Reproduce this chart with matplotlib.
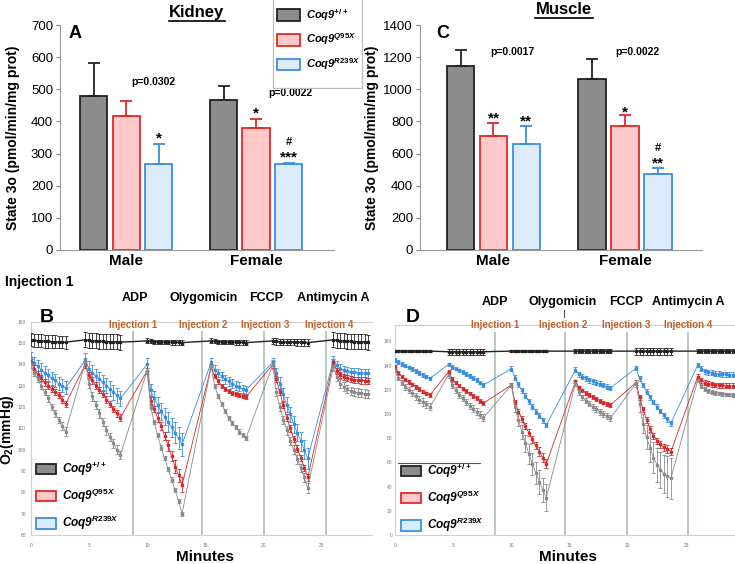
import numpy as np
import matplotlib.pyplot as plt
import matplotlib.patches as mpatches
from matplotlib.lines import Line2D

plt.rcParams['font.family'] = ['Liberation Sans', 'DejaVu Sans']
plt.rcParams['mathtext.fontset'] = 'custom'
plt.rcParams['mathtext.rm'] = 'Liberation Sans:bold'
plt.rcParams['mathtext.it'] = 'Liberation Sans:bold:italic'
plt.rcParams['mathtext.bf'] = 'Liberation Sans:bold'

# ---- bar data (State 3o, pmol/min/mg prot) ----
groups = ['Male', 'Female']
kid_wt = [478, 467]
kid_wt_err = [103, 43]
kid_q95 = [418, 380]
kid_q95_err = [45, 28]
kid_r239 = [267, 267]
kid_r239_err = [63, 3]

mus_wt = [1147, 1064]
mus_wt_err = [97, 122]
mus_q95 = [711, 774]
mus_q95_err = [81, 64]
mus_r239 = [662, 471]
mus_r239_err = [109, 41]

# ---- O2 traces, 11 readings per measurement cycle, 0.3 min apart ----
b_starts = [0, 4.7, 10, 15.5, 20.8, 26]
d_starts = [0, 4.6, 10, 15.5, 20.7, 26]
b_inject = [8.77, 14.7, 20.06, 25.4]
d_inject = [8.6, 14.6, 19.9, 25.2]

b_wt = [140, 136, 133, 130, 127, 124, 120, 117, 114, 111, 108.5,
        141, 131, 125, 121, 117, 113, 109, 106, 103, 100, 97.5,
        137, 120, 113, 107, 101, 96, 91, 86, 81, 76, 70,
        139, 130, 125, 121.5, 118, 115, 112.5, 110.5, 108.5, 107, 105.5,
        140, 127, 120, 114, 109, 104, 100, 95.5, 91.5, 87, 82,
        139, 134, 131, 129.5, 128.5, 127.5, 127, 126.8, 126.5, 126.3, 126.2]
b_wt_err = [1.5, 1.5, 1.5, 1.5, 1.5, 1.5, 1.5, 1.5, 1.5, 2, 2,
            2, 2, 2, 2, 2, 2, 2, 2, 2, 2, 2,
            1.5, 1, 1, 1, 1, 1, 1, 1, 1, 1, 1,
            1, 1, 1, 1, 1, 1, 1, 1, 1, 1, 1,
            2, 2, 2, 2, 2, 2, 2, 2, 2, 2, 2.5,
            2, 2, 2, 2, 2, 2, 2, 2, 2, 2, 2]
b_q95 = [141, 138, 135.5, 133.5, 131.5, 130, 128.5, 127, 125.5, 123.5, 121.5,
         140, 135, 132.5, 130, 128, 126, 123.5, 121.5, 119, 117, 115,
         137, 123, 119, 115, 111, 106.5, 102, 97, 92, 88, 83.5,
         139, 134.5, 132, 130, 128.5, 127.5, 126.5, 126, 125.5, 125, 124.8,
         140, 133, 127, 121, 115, 110, 105, 100.5, 96, 91.5, 87,
         141, 137, 135, 134, 133.5, 133, 132.8, 132.6, 132.5, 132.4, 132.3]
b_q95_err = [1.5, 1.5, 1.5, 1.5, 1.5, 1.5, 1.5, 1.5, 1.5, 1.5, 1.5,
             1.5, 1.5, 1.5, 1.5, 1.5, 1.5, 1.5, 1.5, 1.5, 1.5, 1.5,
             1.5, 1.5, 1.5, 2, 2, 2, 2.5, 2.5, 3, 3, 3.5,
             1, 1, 1, 1, 1, 1, 1, 1, 1, 1, 1,
             1.5, 1.5, 1.5, 1.5, 1.5, 1.5, 1.5, 1.5, 1.5, 1.5, 1.5,
             1.5, 1.5, 1.5, 1.5, 1.5, 1.5, 1.5, 1.5, 1.5, 1.5, 1.5]
b_r239 = [143, 140.5, 139, 137.5, 136, 135, 133.5, 132.5, 131, 130, 129,
          142, 138, 136, 134.5, 133, 131.5, 130, 128.5, 127, 125.5, 124,
          140, 128, 124, 121, 118, 115.5, 113, 110.5, 108, 105.5, 102.5,
          141, 137.5, 136, 134.5, 133, 132, 131, 130, 129.5, 128.5, 128,
          141, 136, 131, 126, 121, 116.5, 112, 108, 104, 100, 96,
          142, 139.5, 138, 137.2, 136.8, 136.5, 136.3, 136.1, 136, 135.9, 135.8]
b_r239_err = [3, 3, 3, 3, 3, 3, 3, 3, 3, 3, 3,
              3.5, 3.5, 3.5, 3.5, 3.5, 3.5, 3.5, 3.5, 3.5, 3.5, 3.5,
              3, 3, 3.5, 3.5, 4, 4, 4.5, 4.5, 5, 5, 5.5,
              2, 2, 2, 2, 2, 2, 2, 2, 2, 2, 2,
              2, 2.5, 3, 3, 3.5, 3.5, 4, 4, 4.5, 4.5, 5,
              2, 2, 2, 2, 2, 2, 2, 2, 2, 2, 2]
b_blk = [151.5, 151.2, 151, 151, 150.8, 150.8, 150.6, 150.6, 150.5, 150.5, 150.4,
         151.5, 151.2, 151, 151, 150.8, 150.8, 150.6, 150.6, 150.5, 150.5, 150.4,
         151, 150.8, 150.6, 150.5, 150.5, 150.4, 150.4, 150.3, 150.3, 150.3, 150.2,
         151, 150.8, 150.6, 150.5, 150.5, 150.4, 150.4, 150.3, 150.3, 150.3, 150.2,
         151, 150.8, 150.6, 150.5, 150.5, 150.4, 150.4, 150.3, 150.3, 150.3, 150.2,
         151.5, 151.2, 151, 151, 150.8, 150.8, 150.6, 150.6, 150.5, 150.5, 150.4]
b_blk_err = [3, 3, 3, 3, 3, 3, 3, 3, 3, 3, 3,
             3.5, 3.5, 3.5, 3.5, 3.5, 3.5, 3.5, 3.5, 3.5, 3.5, 3.5,
             1.2, 1, 1, 1, 1, 1, 1, 1, 1, 1, 1,
             1.2, 1, 1, 1, 1, 1, 1, 1, 1, 1, 1,
             1.5, 1.5, 1.5, 1.5, 1.5, 1.5, 1.5, 1.5, 1.5, 1.5, 1.5,
             3.5, 3.5, 3.5, 3.5, 3.5, 3.5, 3.5, 3.5, 3.5, 3.5, 3.5]

d_wt = [136.5, 130, 126, 122.5, 119.5, 117, 114.5, 112, 110, 108, 106,
        132.5, 124, 119.5, 116, 113, 110, 107, 104.5, 102, 99.5, 97,
        124, 106, 95, 85, 76, 67, 59, 51, 44, 37, 31,
        125.5, 118, 114, 111, 108.5, 106, 104, 102, 100, 98, 96.5,
        125.5, 108, 92, 81, 72, 64, 58, 54, 50.5, 48.5, 47,
        128, 123, 120.5, 119, 118, 117.5, 117, 116.5, 116.2, 116, 115.8]
d_wt_err = [2, 2, 2, 2.5, 2.5, 2.5, 2.5, 2.5, 3, 3, 3,
            2.5, 2.5, 2.5, 2.5, 2.5, 2.5, 2.5, 3, 3, 3, 3,
            2, 4, 5, 6, 7, 8, 9, 9, 10, 10, 11,
            2, 2, 2, 2, 2, 2.5, 2.5, 2.5, 2.5, 2.5, 2.5,
            3, 6, 8, 10, 12, 13, 14, 15, 16, 17, 17,
            1.5, 1.5, 1.5, 1.5, 1.5, 1.5, 1.5, 1.5, 1.5, 1.5, 1.5]
d_q95 = [139, 134, 131, 128.5, 126.5, 124.5, 122.5, 120.5, 118.5, 117, 115.5,
         135, 129, 126, 123.5, 121, 119, 117, 115, 113, 111, 109,
         124, 110, 102, 96, 90, 84.5, 79, 74, 69, 64, 59,
         127, 122, 119.5, 117.5, 115.5, 114, 112.5, 111, 109.5, 108.5, 107.5,
         126, 114, 104, 95, 88, 82, 78, 75, 72.5, 71, 69,
         131, 128, 126, 125, 124.5, 124, 123.8, 123.6, 123.5, 123.4, 123.3]
d_q95_err = [1.5, 1.5, 1.5, 1.5, 1.5, 1.5, 1.5, 1.5, 1.5, 1.5, 1.5,
             1.5, 1.5, 1.5, 1.5, 1.5, 1.5, 1.5, 1.5, 1.5, 1.5, 1.5,
             1.5, 2, 2, 2.5, 2.5, 3, 3, 3, 3.5, 3.5, 4,
             1.5, 1.5, 1.5, 1.5, 1.5, 1.5, 1.5, 1.5, 1.5, 1.5, 1.5,
             2, 2, 2, 2.5, 2.5, 2.5, 2.5, 3, 3, 3, 3,
             2, 2, 2, 2, 2, 2, 2, 2, 2, 2, 2]
d_r239 = [144.5, 143, 141.5, 140, 138.5, 137, 135.5, 134, 132.5, 131, 129.5,
          141, 139, 137.5, 136, 134.5, 133, 131.5, 130, 128, 126, 124,
          137.5, 130, 124.5, 119.5, 115, 110.5, 106, 102, 98.5, 95, 91,
          136.5, 133, 131, 129.5, 128, 127, 126, 125, 124, 122.5, 121.5,
          138, 129.5, 124, 118.5, 114, 110, 106, 102.5, 99, 95.5, 92.5,
          140.5, 137.5, 135.5, 134.5, 134, 133.5, 133.2, 133, 132.8, 132.6, 132.4]
d_r239_err = [1.5, 1.5, 1.5, 1.5, 1.5, 1.5, 1.5, 1.5, 1.5, 1.5, 1.5,
              1.5, 1.5, 1.5, 1.5, 1.5, 1.5, 1.5, 1.5, 1.5, 1.5, 1.5,
              2, 2, 2, 2, 2, 2, 2, 2, 2, 2, 2,
              2, 2, 2, 2, 2, 2, 2, 2, 2, 2, 2,
              2, 2, 2, 2, 2, 2, 2, 2, 2, 2, 2,
              2, 2, 2, 2, 2, 2, 2, 2, 2, 2, 2]
d_blk = [152, 152, 152, 152, 152, 152, 152, 152, 152, 152, 152,
         151.5, 151.5, 151.5, 151.5, 151.5, 151.5, 151.5, 151.5, 151.5, 151.5, 151.5,
         152, 152, 152, 152, 152, 152, 152, 152, 152, 152, 152,
         152, 152, 152, 152, 152, 152, 152, 152, 152, 152, 152,
         152, 152, 152, 152, 152, 152, 152, 152, 152, 152, 152,
         152, 152, 152, 152, 152, 152, 152, 152, 152, 152, 152]
d_blk_err = [1, 1, 1, 1, 1, 1, 1, 1, 1, 1, 1,
             2.5, 2.5, 2.5, 2.5, 2.5, 2.5, 2.5, 2.5, 2.5, 2.5, 2.5,
             0.8, 0.8, 0.8, 0.8, 0.8, 0.8, 0.8, 0.8, 0.8, 0.8, 0.8,
             1.5, 1.5, 1.5, 1.5, 1.5, 1.5, 1.5, 1.5, 1.5, 1.5, 1.5,
             3, 3, 3, 3, 3, 3, 3, 3, 3, 3, 3,
             1.5, 1.5, 1.5, 1.5, 1.5, 1.5, 1.5, 1.5, 1.5, 1.5, 1.5]

labels = [r'Coq9$^{+/+}$', r'Coq9$^{Q95X}$', r'Coq9$^{R239X}$']
face = ['#8c8c8c', '#ffc9c9', '#dcecfc']
edge = ['#222222', '#e02a2a', '#3a8ee6']
line_col = ['#8a8a8a', '#d8282a', '#3a8ee0']

W, H = 735, 564
fig = plt.figure(figsize=(W / 100, H / 100), dpi=100)


def px_axes(l, t, r, b):
    return fig.add_axes([l / W, 1 - b / H, (r - l) / W, (b - t) / H])


def px_text(x, y, s, **kw):
    kw.setdefault('ha', 'center')
    kw.setdefault('va', 'center')
    fig.text(x / W, 1 - y / H, s, **kw)


def px_line(xs, ys, **kw):
    fig.add_artist(Line2D([x / W for x in xs], [1 - y / H for y in ys], **kw))


def handles():
    return [mpatches.Patch(facecolor=f, edgecolor=e, linewidth=1.3) for f, e in zip(face, edge)]


def bar_panel(ax, series, errs, ymax, step):
    x = np.arange(len(groups))
    for i, (vals, err) in enumerate(zip(series, errs)):
        xs = x + (i - 1) * 0.25
        ax.bar(xs, vals, width=0.21, color=face[i], edgecolor=edge[i], linewidth=1.3, zorder=2)
        ax.errorbar(xs, vals, yerr=[[0] * len(vals), err], fmt='none', ecolor=edge[i],
                    elinewidth=1.3, capsize=4.5, capthick=1.3, zorder=3)
    ax.set_ylim(0, ymax)
    ax.set_yticks(np.arange(0, ymax + 1, step))
    ax.set_xticks(x)
    ax.set_xticklabels(groups, fontsize=11, fontweight='bold')
    ax.tick_params(axis='x', length=0, pad=3)
    ax.tick_params(axis='y', labelsize=9.5, length=3, color='#888888', pad=2)
    for s in ['top', 'right']:
        ax.spines[s].set_visible(False)
    for s in ['left', 'bottom']:
        ax.spines[s].set_color('#999999')
    ax.set_ylabel('State 3o (pmol/min/mg prot)', fontsize=10, fontweight='bold', labelpad=3)


def trace_panel(ax, starts, series, errs, blk, blk_err, inject, ylim, yticks, vtop):
    t = np.concatenate([s + 0.3 * np.arange(11) for s in starts])
    for i in [2, 1, 0]:
        ax.errorbar(t, series[i], yerr=errs[i], color=line_col[i], ecolor=line_col[i],
                    marker='s', markersize=1.8, lw=0.6, elinewidth=0.6, capsize=1.4,
                    capthick=0.6, zorder=3)
    ax.errorbar(t, blk, yerr=blk_err, color='#222222', ecolor='#222222', marker='s',
                markersize=1.6, lw=1.0, elinewidth=0.6, capsize=1.4, capthick=0.6, zorder=3)
    ax.vlines(inject, ylim[0], vtop, color='#b9c8b9', lw=1.4, zorder=1)
    ax.set_xlim(0, 29.3)
    ax.set_ylim(*ylim)
    ax.set_xticks([0, 5, 10, 15, 20, 25])
    ax.set_yticks(yticks)
    ax.tick_params(labelsize=3.5, labelcolor='#777777', length=0, pad=6)
    ax.spines['right'].set_visible(False)
    for s in ['left', 'bottom', 'top']:
        ax.spines[s].set_color('#cfcfcf')
        ax.spines[s].set_linewidth(0.8)


# ---- A: kidney ----
axA = px_axes(60, 25, 334, 250)
axA.set_xlim(-0.51, 1.6)
bar_panel(axA, [kid_wt, kid_q95, kid_r239], [kid_wt_err, kid_q95_err, kid_r239_err], 700, 100)
axA.yaxis.set_label_coords(-0.146, 0.5)

# ---- C: muscle ----
axC = px_axes(420, 25, 702, 250)
axC.set_xlim(-0.559, 1.586)
bar_panel(axC, [mus_wt, mus_q95, mus_r239], [mus_wt_err, mus_q95_err, mus_r239_err], 1400, 200)
axC.yaxis.set_label_coords(-0.145, 0.5)


def mark(ax, x, y, s, dy, size=11):
    ax.annotate(s, (x, y), xytext=(0, dy), textcoords='offset points', ha='center',
                va='baseline', fontsize=size, fontweight='bold')


caps = lambda v, e: [a + b for a, b in zip(v, e)]
kq = caps(kid_q95, kid_q95_err)
kr = caps(kid_r239, kid_r239_err)
mark(axA, 0.25, kr[0], '*', 0.7)
mark(axA, 1.0, kq[1], '*', 0.7)
mark(axA, 1.25, kr[1], '***', 1.4)
mark(axA, 1.25, kr[1], '#', 13, size=8)

mq = caps(mus_q95, mus_q95_err)
mr = caps(mus_r239, mus_r239_err)
mark(axC, 0.0, mq[0], '**', 0)
mark(axC, 0.25, mr[0], '**', 0.7)
mark(axC, 1.0, mq[1], '*', -0.7)
mark(axC, 1.25, mr[1], '**', 0)
mark(axC, 1.25, mr[1], '#', 12, size=8)

px_text(153, 82, 'p=0.0302', fontsize=7.5, fontweight='bold')
px_text(290, 93, 'p=0.0022', fontsize=7.5, fontweight='bold')
px_text(512, 52, 'p=0.0017', fontsize=7.5, fontweight='bold')
px_text(637, 52, 'p=0.0022', fontsize=7.5, fontweight='bold')

px_text(197, 12, 'Kidney', fontsize=12, fontweight='bold')
px_line([169, 225], [21, 21], color='black', lw=1.2)
px_text(564, 9, 'Muscle', fontsize=12, fontweight='bold')
px_line([535, 593], [17.5, 17.5], color='black', lw=1.2)
px_text(75, 34, 'A', fontsize=13, fontweight='bold')
px_text(443, 34, 'C', fontsize=13, fontweight='bold')

# legend box of the top row
fig.add_artist(mpatches.Rectangle((273 / W, 1 - 88 / H), 89 / W, 90 / H,
                                  transform=fig.transFigure, facecolor='white',
                                  edgecolor='#bbbbbb', lw=0.9, zorder=4))
leg = fig.legend(handles(), labels, loc='upper left', bbox_to_anchor=(277 / W, 1 - 7 / H),
                 bbox_transform=fig.transFigure, prop=dict(size=8, weight='bold', style='italic'),
                 frameon=False, handlelength=2.1, handleheight=1.25, handletextpad=0.5,
                 labelspacing=0.8, borderpad=0, borderaxespad=0)
leg.set_zorder(5)

# ---- B: kidney O2 traces ----
axB = px_axes(30.7, 321.7, 371.8, 535)
trace_panel(axB, b_starts, [b_wt, b_q95, b_r239], [b_wt_err, b_q95_err, b_r239_err],
            b_blk, b_blk_err, b_inject, (60, 160), np.arange(60, 161, 10), 155.5)
axB.tick_params(axis='y', pad=3.5)
axB.legend(handles(), labels, loc='upper left', bbox_to_anchor=(36 / W, 1 - 460 / H),
           bbox_transform=fig.transFigure, prop=dict(size=8.5, weight='bold', style='italic'),
           frameon=False, handlelength=1.7, handleheight=1.0, handletextpad=0.5,
           labelspacing=0.75, borderpad=0, borderaxespad=0)

# ---- D: muscle O2 traces ----
axD = px_axes(395, 325, 735, 535)
trace_panel(axD, d_starts, [d_wt, d_q95, d_r239], [d_wt_err, d_q95_err, d_r239_err],
            d_blk, d_blk_err, d_inject, (0, 173.6), np.arange(0, 161, 20), 168)
axD.set_xlim(0, 29.2)
axD.tick_params(axis='y', pad=2)
axD.legend(handles(), labels, loc='upper left', bbox_to_anchor=(401 / W, 1 - 462 / H),
           bbox_transform=fig.transFigure, prop=dict(size=8.5, weight='bold', style='italic'),
           frameon=False, handlelength=1.7, handleheight=1.0, handletextpad=0.5,
           labelspacing=0.75, borderpad=0, borderaxespad=0)
px_line([398, 480], [463, 463], color='#555555', lw=0.8)

# ---- labels around the traces ----
px_text(5, 282, 'Injection 1', fontsize=10, fontweight='bold', ha='left')
for xs, y in [([135, 204, 266, 333], 298), ([495, 563, 626, 688], 302)]:
    for x, s in zip(xs, ['ADP', 'Olygomicin', 'FCCP', 'Antimycin A']):
        px_text(x, y, s, fontsize=9, fontweight='bold')
px_line([564, 564], [310, 317], color='#555555', lw=0.8)
for xs in [[133, 203, 265, 329], [495, 563, 626, 688]]:
    for i, x in enumerate(xs):
        px_text(x, 325, 'Injection %d' % (i + 1), fontsize=7, fontweight='bold', color='#c0622a')
px_text(47, 318, 'B', fontsize=14, fontweight='bold')
px_text(413, 318, 'D', fontsize=14, fontweight='bold')
px_text(7.5, 430, r'O$_\mathbf{2}$(mmHg)', fontsize=10, fontweight='bold', rotation=90)
px_text(205, 557, 'Minutes', fontsize=11, fontweight='bold')
px_text(568, 557, 'Minutes', fontsize=11, fontweight='bold')

fig.savefig('out.png', dpi=100)
